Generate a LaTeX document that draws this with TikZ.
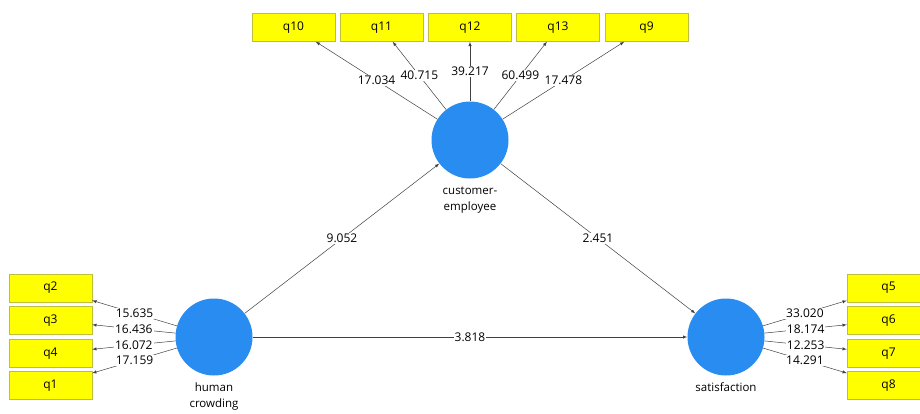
\documentclass[tikz,border=0pt]{standalone}
\usepackage{fontspec}
\setmainfont{Open Sans}
\usetikzlibrary{arrows,positioning}
\definecolor{lvblue}{RGB}{40,140,240}
\definecolor{mvyellow}{RGB}{255,255,0}
\definecolor{mvline}{RGB}{190,190,60}

\tikzset{
  lv/.style={circle,fill=lvblue,inner sep=0pt,minimum size=77pt},
  mv/.style={rectangle,fill=mvyellow,draw=mvline,line width=0.4pt,minimum width=83pt,minimum height=28pt,font=\fontsize{12}{14}\selectfont},
  path/.style={draw=black!75,line width=0.5pt,-latex},
  wt/.style={midway,fill=white,inner sep=1pt,font=\fontsize{12}{13}\selectfont},
  lvname/.style={align=center,font=\fontsize{11.5}{16.5}\selectfont}
}

\begin{document}
\begin{tikzpicture}[x=1pt,y=-1pt]
\useasboundingbox (0,0) rectangle (920,413);
\begin{scope}
\clip (0,0) rectangle (920,413);
% latent variables
\node[lv] (ce) at (470,140) {};
\node[lv] (hc) at (214,337) {};
\node[lv] (sat) at (726,337) {};
\node[lvname,anchor=north] (cename) at (470,183) {customer-\\employee};
\node[lvname,anchor=north] (hcname) at (214,379) {human\\crowding};
\node[lvname,anchor=north] (satname) at (726,379) {satisfaction};

% indicators
\node[mv] (q10) at (293.5,27.5) {q10};
\node[mv] (q11) at (381.5,27.5) {q11};
\node[mv] (q12) at (470,27.5) {q12};
\node[mv] (q13) at (558,27.5) {q13};
\node[mv] (q9) at (646.5,27.5) {q9};

\node[mv] (q2) at (50.5,288) {q2};
\node[mv] (q3) at (50.5,320.5) {q3};
\node[mv] (q4) at (50.5,353.5) {q4};
\node[mv] (q1) at (50.5,385.5) {q1};

\node[mv] (q5) at (888.5,288) {q5};
\node[mv] (q6) at (888.5,320.5) {q6};
\node[mv] (q7) at (888.5,353.5) {q7};
\node[mv] (q8) at (888.5,385.5) {q8};

% outer loadings
\draw[path] (ce) -- node[wt] {17.034} (q10);
\draw[path] (ce) -- node[wt] {40.715} (q11);
\draw[path] (ce) -- node[wt] {39.217} (q12);
\draw[path] (ce) -- node[wt] {60.499} (q13);
\draw[path] (ce) -- node[wt] {17.478} (q9);

\draw[path] (hc) -- node[wt] {15.635} (q2);
\draw[path] (hc) -- node[wt] {16.436} (q3);
\draw[path] (hc) -- node[wt] {16.072} (q4);
\draw[path] (hc) -- node[wt] {17.159} (q1);

\draw[path] (sat) -- node[wt] {33.020} (q5);
\draw[path] (sat) -- node[wt] {18.174} (q6);
\draw[path] (sat) -- node[wt] {12.253} (q7);
\draw[path] (sat) -- node[wt] {14.291} (q8);

% structural paths
\draw[path] (hc) -- node[wt] {9.052} (ce);
\draw[path] (ce) -- node[wt] {2.451} (sat);
\draw[path] (hc) -- node[wt] {3.818} (sat);
\end{scope}
\end{tikzpicture}
\end{document}
